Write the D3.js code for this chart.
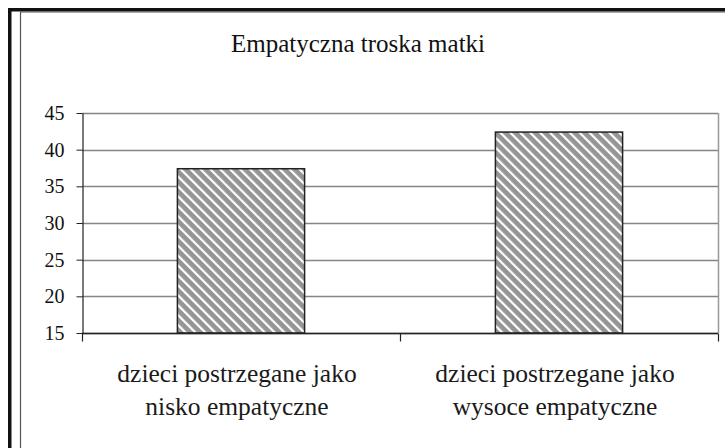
<!DOCTYPE html>
<html>
<head>
<meta charset="utf-8">
<script src="https://cdn.jsdelivr.net/npm/d3@7"></script>
<style>
  body { margin: 0; background: #fff; }
  svg { display: block; }
</style>
</head>
<body>
<div id="chart"></div>
<script>
const title = "Empatyczna troska matki";
const categories = [
  ["dzieci postrzegane jako", "nisko empatyczne"],
  ["dzieci postrzegane jako", "wysoce empatyczne"]
];
const values = [37.4, 42.4];
const yTicks = [15, 20, 25, 30, 35, 40, 45];

const serif = "Liberation Serif, DejaVu Serif, serif";

const width = 725;
const height = 448;
const margin = { top: 113, right: 7, bottom: 115, left: 82 };

const svg = d3.select("#chart").append("svg")
  .attr("width", width)
  .attr("height", height)
  .attr("font-family", serif);

// hatch pattern for bars
const defs = svg.append("defs");
const pat = defs.append("pattern")
  .attr("id", "hatch")
  .attr("patternUnits", "userSpaceOnUse")
  .attr("width", 7)
  .attr("height", 7)
  .attr("patternTransform", "rotate(-45)");
pat.append("rect").attr("width", 7).attr("height", 7).attr("fill", "#959595");
pat.append("rect").attr("x", 0).attr("width", 2.2).attr("height", 7).attr("fill", "#fff");

// outer frame (only top and left visible)
svg.append("rect").attr("x", 8).attr("y", 8).attr("width", width).attr("height", 3.5).attr("fill", "#111");
svg.append("rect").attr("x", 8).attr("y", 8).attr("width", 3.5).attr("height", height).attr("fill", "#111");
svg.append("line").attr("x1", 20.5).attr("x2", 20.5).attr("y1", 12).attr("y2", height)
  .attr("stroke", "#555").attr("stroke-width", 1.2);
svg.append("line").attr("x1", 20).attr("x2", width).attr("y1", 12).attr("y2", 12)
  .attr("stroke", "#555").attr("stroke-width", 1.2);

const x = d3.scaleBand()
  .domain(d3.range(categories.length))
  .range([margin.left, width - margin.right])
  .padding(0);

const y = d3.scaleLinear()
  .domain([15, 45])
  .range([height - margin.bottom, margin.top]);

// gridlines
svg.append("g")
  .selectAll("line")
  .data(yTicks)
  .join("line")
  .attr("x1", margin.left)
  .attr("x2", width - margin.right)
  .attr("y1", d => Math.round(y(d)) + 0.5)
  .attr("y2", d => Math.round(y(d)) + 0.5)
  .attr("stroke", "#858585")
  .attr("stroke-width", 1.3);

// right border of plot area
svg.append("line")
  .attr("x1", width - margin.right + 0.5)
  .attr("x2", width - margin.right + 0.5)
  .attr("y1", y(45))
  .attr("y2", y(15))
  .attr("stroke", "#999")
  .attr("stroke-width", 1.5);

// bars
const barW = x.bandwidth() * 0.4;
svg.append("g")
  .selectAll("rect")
  .data(values)
  .join("rect")
  .attr("x", (d, i) => x(i) + (x.bandwidth() - barW) / 2)
  .attr("y", d => y(d))
  .attr("width", barW)
  .attr("height", d => y(15) - y(d))
  .attr("fill", "url(#hatch)")
  .attr("stroke", "#222")
  .attr("stroke-width", 1.5);

// y axis
const yAxis = svg.append("g")
  .attr("transform", `translate(${margin.left + 0.5},0)`)
  .call(d3.axisLeft(y).tickValues(yTicks).tickSize(6).tickPadding(12).tickSizeOuter(0));
yAxis.attr("font-family", serif).attr("font-size", 20);
yAxis.select(".domain").attr("stroke", "#222").attr("stroke-width", 1.2);
yAxis.selectAll(".tick line").attr("stroke", "#222");
yAxis.selectAll("text").attr("fill", "#111");

// x axis line with boundary ticks
const xAxisY = Math.round(y(15)) + 0.5;
svg.append("line")
  .attr("x1", margin.left)
  .attr("x2", width - margin.right)
  .attr("y1", xAxisY)
  .attr("y2", xAxisY)
  .attr("stroke", "#222")
  .attr("stroke-width", 1.3);

const bounds = d3.range(categories.length + 1).map(i => margin.left + i * x.step());
svg.append("g")
  .selectAll("line")
  .data(bounds)
  .join("line")
  .attr("x1", d => Math.round(d) + 0.5)
  .attr("x2", d => Math.round(d) + 0.5)
  .attr("y1", xAxisY)
  .attr("y2", xAxisY + 8)
  .attr("stroke", "#222")
  .attr("stroke-width", 1.2);

// category labels
const labels = svg.append("g")
  .attr("font-family", serif)
  .attr("font-size", 25.5)
  .attr("fill", "#1a1a1a")
  .attr("text-anchor", "middle");

categories.forEach((lines, i) => {
  const t = labels.append("text");
  lines.forEach((line, j) => {
    t.append("tspan")
      .attr("x", x(i) + x.bandwidth() / 2 - 4)
      .attr("y", 382 + j * 33)
      .text(line);
  });
});

// title
svg.append("text")
  .attr("x", 358)
  .attr("y", 52)
  .attr("text-anchor", "middle")
  .attr("fill", "#111")
  .attr("font-family", serif)
  .attr("font-size", 25)
  .text(title);
</script>
</body>
</html>
